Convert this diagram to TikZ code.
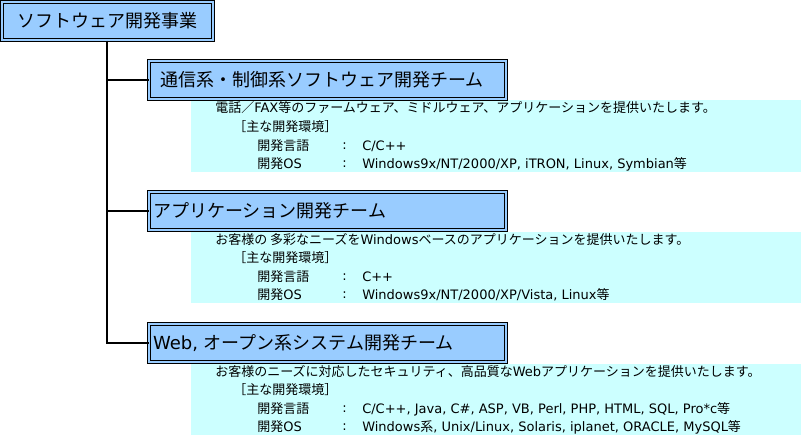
\documentclass[tikz,border=0pt]{standalone}
\usepackage{fontspec}
\setmainfont{Noto Sans CJK JP}
\newfontfamily\jp{Noto Sans CJK JP}
\newfontfamily\lat{DejaVu Sans}
\newcommand\la[1]{{\lat #1}}
\definecolor{boxblue}{HTML}{99CCFF}
\definecolor{infocyan}{HTML}{CCFFFF}
\tikzset{
  dbox/.style={draw=black, line width=0.75pt, double=boxblue, double distance=1.5pt,
    fill=boxblue, inner ysep=0pt, minimum height=28.5pt, font=\jp\fontsize{13.5pt}{15pt}\selectfont},
  trunk/.style={line width=1.5pt, black},
  infobg/.style={fill=infocyan, draw=none},
  info/.style={anchor=west, inner sep=0pt, font=\jp\fontsize{9.75pt}{11pt}\selectfont},
}
\begin{document}
\begin{tikzpicture}[x=0.75pt, y=-0.75pt]
\useasboundingbox (0,0) rectangle (802,436);
% info backgrounds
\fill[infobg] (191,100) rectangle (801,172);
\fill[infobg] (191,232) rectangle (801,303);
\fill[infobg] (191,364) rectangle (801,435);
% top box
\node[dbox, minimum width=158.25pt, inner xsep=0pt] (top) at (107.5,21) {ソフトウェア開発事業};
% team boxes
\node[dbox, inner xsep=8.25pt, text width=251.25pt, align=left] (t1) at (327.5,80) {通信系・制御系ソフトウェア開発チーム};
\node[dbox, inner xsep=3pt, text width=261.75pt, align=left] (t2) at (327.5,211) {アプリケーション開発チーム};
\node[dbox, inner xsep=3pt, text width=261.75pt, align=left] (t3) at (327.5,343) {\la{Web,} オープン系システム開発チーム};
% connectors
\coordinate (j1) at (107,80);
\coordinate (j2) at (107,211);
\coordinate (j3) at (107,343);
\draw[trunk] (top.south -| j1) -- (j3) -- (t3.west);
\draw[trunk] (j1) -- (t1.west);
\draw[trunk] (j2) -- (t2.west);
% team 1 info
\node[info] (a1) at (215,108) {電話／\la{FAX}等のファームウェア、ミドルウェア、アプリケーションを提供いたします。};
\node[info] (a2) at (233,127) {［主な開発環境］};
\node[info] (a3) at (257,146) {開発言語};
\node[info] (a4) at (342,146) {\la{:}};
\node[info] (a5) at (362,146) {\la{C/C++}};
\node[info] (a6) at (257,164) {開発\la{OS}};
\node[info] (a7) at (342,164) {\la{:}};
\node[info] (a8) at (362,164) {\la{Windows9x/NT/2000/XP, iTRON, Linux, Symbian}等};
% team 2 info
\node[info] (b1) at (215,240) {お客様の 多彩なニーズを\la{Windows}ベースのアプリケーションを提供いたします。};
\node[info] (b2) at (233,258) {［主な開発環境］};
\node[info] (b3) at (257,277) {開発言語};
\node[info] (b4) at (342,277) {\la{:}};
\node[info] (b5) at (362,277) {\la{C++}};
\node[info] (b6) at (257,295) {開発\la{OS}};
\node[info] (b7) at (342,295) {\la{:}};
\node[info] (b8) at (362,295) {\la{Windows9x/NT/2000/XP/Vista, Linux}等};
% team 3 info
\node[info] (c1) at (215,372) {お客様のニーズに対応したセキュリティ、高品質な\la{Web}アプリケーションを提供いたします。};
\node[info] (c2) at (233,390) {［主な開発環境］};
\node[info] (c3) at (257,409) {開発言語};
\node[info] (c4) at (342,409) {\la{:}};
\node[info] (c5) at (362,409) {\la{C/C++, Java, C\#, ASP, VB, Perl, PHP, HTML, SQL, Pro*c}等};
\node[info] (c6) at (257,427) {開発\la{OS}};
\node[info] (c7) at (342,427) {\la{:}};
\node[info] (c8) at (362,427) {\la{Windows}系\la{, Unix/Linux, Solaris, iplanet, ORACLE, MySQL}等};
\end{tikzpicture}
\end{document}
